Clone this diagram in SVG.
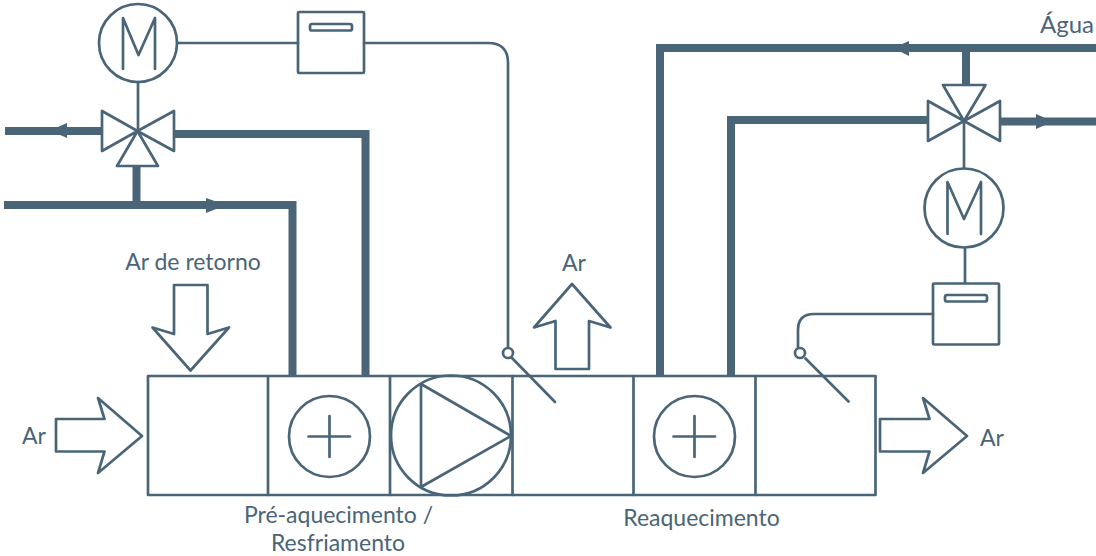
<svg xmlns="http://www.w3.org/2000/svg" width="1096" height="556" viewBox="0 0 1096 556">
<style>
.l{fill:none;stroke:#4a6578;stroke-width:2.700;stroke-linejoin:round;stroke-linecap:round}
.o{fill:#fff;stroke:#4a6578;stroke-width:2.700;stroke-linejoin:round;stroke-linecap:round}
.p{fill:none;stroke:#4a6578;stroke-width:8;stroke-linejoin:miter}
.h{fill:#4a6578;stroke:none}
text{font-family:"Lato","Liberation Sans",sans-serif;font-size:23px;fill:#4a6578}
.m{text-anchor:middle}
</style>
<rect width="1096" height="556" fill="#fff"/>
<g id="connectors">
<path class="p" d="M5 131H102"/>
<path class="p" d="M175 134H365.500V376"/>
<path class="p" d="M4 205H292.500V376"/>
<path class="p" d="M136.500 166V205"/>
<path class="p" d="M1096 48H660V376"/>
<path class="p" d="M966 48V85"/>
<path class="p" d="M928 120H731V376"/>
<path class="p" d="M1001 121.500H1096"/>
<polygon class="h" points="50,130.500 67,123 67,138"/>
<polygon class="h" points="226,205 206,198 206,213"/>
<polygon class="h" points="893,48 909,41 909,56"/>
<polygon class="h" points="1053,121.500 1036,114 1036,129"/>
<path class="l" d="M178 43H298"/>
<path class="l" d="M364 43H488Q508 43 508 63V348"/>
<path class="l" d="M138 82V131"/>
<path class="l" d="M964 121V168"/>
<path class="l" d="M965 248V283"/>
<path class="l" d="M933 314H814Q798 314 798 330V348"/>
<path class="l" d="M512 358L555 402"/>
<path class="l" d="M805.500 358.500L848.500 401.500"/>
</g>
<g id="motor-1"><circle class="l" cx="138" cy="43" r="39"/><path class="l" d="M123 69V18L138.500 55L155 18V69"/></g>
<g id="controller-1"><rect class="l" x="298" y="12" width="66" height="61" rx="1"/><rect class="l" x="310" y="24" width="42" height="6.500" rx="2"/></g>
<g id="valve-1"><path class="l" d="M102 111V151L137.500 131ZM174 111V151L137.500 131ZM137.500 131L117 166H158Z"/></g>
<g id="motor-2"><circle class="l" cx="964" cy="208" r="39.500"/><path class="l" d="M947.500 234V182L964 219L981 182V234"/></g>
<g id="controller-2"><rect class="l" x="933" y="283.500" width="66" height="61" rx="1"/><rect class="l" x="945" y="295" width="42" height="6.500" rx="2"/></g>
<g id="valve-2"><path class="l" d="M928 101V141L964 121ZM1000 101V141L964 121ZM964 121L943 85H985.500Z"/></g>
<g id="duct">
<rect class="l" x="148" y="376" width="727.500" height="119"/>
<path class="l" d="M268 376V495M390 376V495M512.500 376V495M633.500 376V495M755.500 376V495"/>
</g>
<g id="coil-1"><circle class="l" cx="329.500" cy="436.500" r="40.500"/><path class="l" d="M308.500 436.500H350M329.500 416V457"/></g>
<g id="fan"><circle class="l" cx="451" cy="435.500" r="60"/><path class="l" d="M421 384L511 436L421 487Z"/></g>
<g id="coil-2"><circle class="l" cx="694.500" cy="436.500" r="40.500"/><path class="l" d="M673.500 436.500H715M694.500 416V457"/></g>
<g id="damper-1"><circle class="o" cx="508" cy="353" r="5"/></g>
<g id="damper-2"><circle class="o" cx="800" cy="353" r="5"/></g>
<g id="arrow-return"><path class="l" d="M174 285H207.500V334L229 327.500L190.500 370.500L152.500 327.500L174 334Z"/></g>
<g id="arrow-in"><path class="l" d="M56 419H104.500L98 398L142 436L98 473L104.500 451.500H56Z"/></g>
<g id="arrow-up"><path class="l" d="M555.500 369H589V321L610.500 327.500L572 284L534 327.500L555.500 321Z"/></g>
<g id="arrow-out"><path class="l" d="M880 419H929.500L923 398L967 436L923 473L929.500 451.500H880Z"/></g>
<g id="labels">
<text x="1040" y="33" style="font-size:24px">Água</text>
<text class="m" x="193" y="270">Ar de retorno</text>
<text class="m" x="574" y="271">Ar</text>
<text x="22" y="444">Ar</text>
<text x="980" y="446">Ar</text>
<text class="m" x="338.500" y="523">Pré-aquecimento /</text>
<text class="m" x="338" y="551">Resfriamento</text>
<text class="m" x="701.500" y="526">Reaquecimento</text>
</g>
</svg>
